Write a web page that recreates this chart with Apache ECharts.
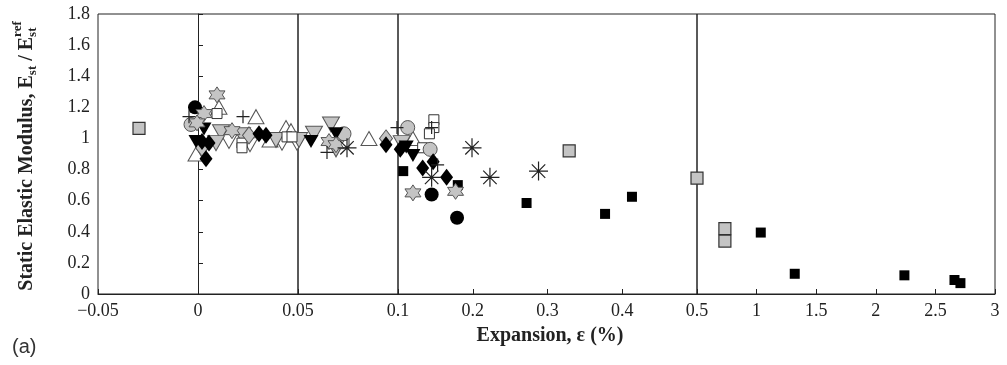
<!DOCTYPE html>
<html><head><meta charset="utf-8">
<script src="https://cdn.jsdelivr.net/npm/echarts@6/dist/echarts.min.js"></script>
<style>html,body{margin:0;padding:0;background:#fff}#c{width:1007px;height:365px}</style>
</head><body><div id="c"></div>
<script>
// Axis break points (x axis is piecewise linear), and tick settings
const xBreaks = [-0.05, 0.05, 0.1, 0.5, 3];
const xIntervals = [0.05, 0.05, 0.1, 0.5];
const yMin = 0, yMax = 1.8, yInterval = 0.2;

// Data: [expansion %, E/Eref]
const blackCircle = [[-0.0015,1.2],[0.145,0.64],[0.179,0.49]];
const grayCircle = [[-0.0035,1.09],[0.073,1.03],[0.113,1.07],[0.143,0.93]];
const whiteUpTri = [[0.0105,1.2],[-0.001,0.9],[0.029,1.14],[0.044,1.07],[0.0465,1.05],[0.0855,1.0],[0.12,1.0],[0.036,0.99]];
const grayDownTri = [[0.0115,1.04],[0.022,1.02],[0.009,0.97],[0.039,0.99],[0.0505,0.99],[0.058,1.03],[0.0665,1.09],[0.069,0.93],[0.105,0.97]];
const whiteDownTri = [[0.0155,0.98],[0.042,0.97],[0.026,0.96],[0.0495,0.97]];
const blackDownTri = [[0.003,1.06],[-0.001,0.98],[0.0565,0.98],[0.069,1.03],[0.111,0.945],[0.12,0.89]];
const blackDiamond = [[0.002,0.98],[0.0055,0.97],[0.004,0.87],[0.0305,1.03],[0.034,1.02],[0.094,0.96],[0.103,0.93],[0.133,0.81],[0.147,0.85],[0.165,0.75]];
const grayDiamond = [[0.002,0.94],[0.0255,1.02],[0.094,1.0]];
const whiteSquare = [[0.0095,1.16],[0.022,0.97],[0.022,0.94],[0.0445,1.01],[0.047,1.01],[0.073,0.97],[0.148,1.12],[0.148,1.07],[0.142,1.03],[0.133,0.94]];
const graySquare = [[-0.0295,1.065],[0.329,0.92],[0.5,0.745],[0.734,0.42],[0.734,0.34]];
const blackSquare = [[0.107,0.79],[0.18,0.7],[0.272,0.585],[0.377,0.515],[0.413,0.625],[1.035,0.395],[1.32,0.13],[2.24,0.12],[2.66,0.09],[2.71,0.07]];
const grayStar = [[0.0095,1.28],[0.003,1.16],[-0.0005,1.1],[0.017,1.05],[0.0655,0.98],[0.069,0.96],[0.12,0.65],[0.177,0.66]];
const plusMark = [[-0.0045,1.14],[0.0225,1.14],[0.0645,0.91],[0.0995,1.07],[0.145,1.07],[0.153,0.83]];
const asterisk = [[0.199,0.94],[0.223,0.75],[0.288,0.79],[0.145,0.75],[0.0745,0.94]];

// symbol paths
function starPath(){
  let s='';
  for(let k=0;k<12;k++){
    const a=(-90+k*30)*Math.PI/180, r=(k%2===0)?5:2.887;
    s+=(k===0?'M':'L')+(5+r*Math.cos(a)).toFixed(3)+','+(5+r*Math.sin(a)).toFixed(3);
  }
  return 'path://'+s+'Z';
}
const SYM = {
  downTri: 'path://M0,0L10,0L5,9Z',
  star: starPath(),
  plus: 'path://M0,5L10,5M5,0L5,10',
  ast: 'path://M0,5L10,5M5,0L5,10M1.46,1.46L8.54,8.54M1.46,8.54L8.54,1.46'
};
const GRAY='#c4c4c4', EDGE='#555';
const groups = [
  {d: whiteDownTri, sym: SYM.downTri, size:[16,14], fill:'#fff', stroke:'#555', bw:1},
  {d: whiteUpTri, sym:'triangle', size:[16,14], fill:'#fff', stroke:'#555', bw:1},
  {d: grayDownTri, sym: SYM.downTri, size:[17,15], fill:GRAY, stroke:EDGE, bw:1},
  {d: whiteSquare, sym:'rect', size:10, fill:'#fff', stroke:'#333', bw:1},
  {d: grayCircle, sym:'circle', size:14, fill:GRAY, stroke:EDGE, bw:1},
  {d: grayDiamond, sym:'diamond', size:[13,17], fill:GRAY, stroke:EDGE, bw:1},
  {d: blackDownTri, sym: SYM.downTri, size:[15,13], fill:'#000', stroke:'#000', bw:0},
  {d: blackDiamond, sym:'diamond', size:[13,17], fill:'#000', stroke:'#000', bw:0},
  {d: blackCircle, sym:'circle', size:14, fill:'#000', stroke:'#000', bw:0},
  {d: graySquare, sym:'rect', size:12, fill:GRAY, stroke:'#333', bw:1.2},
  {d: blackSquare, sym:'rect', size:10, fill:'#000', stroke:'#000', bw:0},
  {d: grayStar, sym: SYM.star, size:16, fill:GRAY, stroke:EDGE, bw:1},
  {d: plusMark, sym: SYM.plus, size:13, fill:'none', stroke:'#222', bw:1.2},
  {d: asterisk, sym: SYM.ast, size:19, fill:'none', stroke:'#222', bw:1.2}
];

const gLeft=[98,298,398,697], gWidth=[200,100,299,298], gTop=14, gHeight=280;
function gridOf(x){ for(let i=0;i<4;i++){ if(x<xBreaks[i+1] || i===3) return i; } }

const AX='#222', FONT='"Liberation Serif","Times New Roman",serif';
const grid=[], xAxis=[], yAxis=[], series=[];
for(let i=0;i<4;i++){
  grid.push({left:gLeft[i], top:gTop, width:gWidth[i], height:gHeight, show:true, borderColor:AX, borderWidth:1, containLabel:false});
  xAxis.push({type:'value', gridIndex:i, min:xBreaks[i], max:xBreaks[i+1], interval:xIntervals[i],
    axisLine:{show:true, lineStyle:{color:AX}}, axisTick:{show:true, inside:true, length:5, lineStyle:{color:AX}},
    splitLine:{show:false},
    axisLabel:{color:'#222', fontFamily:FONT, fontSize:18, margin:8, showMinLabel: i===0, showMaxLabel:true,
      formatter:v=>{const t=String(+v.toFixed(2)); return t.replace('-','\u2212');}}});
  yAxis.push({type:'value', gridIndex:i, min:yMin, max:yMax, interval:yInterval,
    axisLine:{show:i===0, lineStyle:{color:AX}}, axisTick:{show:i===0, inside:true, length:5, lineStyle:{color:AX}},
    splitLine:{show:false},
    axisLabel:{show:i===0, color:'#222', fontFamily:FONT, fontSize:18, margin:8, formatter:v=>String(+v.toFixed(1))}});
}
groups.forEach(g=>{
  for(let i=0;i<4;i++){
    const pts=g.d.filter(p=>gridOf(p[0])===i);
    if(!pts.length) continue;
    series.push({type:'scatter', xAxisIndex:i, yAxisIndex:i, data:pts, symbol:g.sym, symbolSize:g.size,
      clip:false, silent:true,
      itemStyle:{color:g.fill, borderColor:g.stroke, borderWidth:g.bw, opacity:1}});
  }
});

// Y axis title pieces, measured
const ctx=document.createElement('canvas').getContext('2d');
const TF='bold 20px "Liberation Serif"', SF='bold 13px "Liberation Serif"';
function mw(t,f){ctx.font=f;return ctx.measureText(t).width;}
const t1='Static Elastic Modulus, E', t3=' / E';
const w1=mw(t1,TF), w2=mw('st',SF), w3=mw(t3,TF), w5=mw('ref',SF);
const L=w1+w2+w3+Math.max(w2,w5);
const tStyle=(text,font,extra)=>Object.assign({text, font, fill:'#222', verticalAlign:'middle', align:'left'}, extra||{});

const chart=echarts.init(document.getElementById('c'),null,{renderer:'canvas'});
chart.setOption({
  animation:false, backgroundColor:'#fff',
  grid, xAxis, yAxis, series,
  graphic:[
    {type:'group', x:27, y:156+L/2, rotation:Math.PI/2, children:[
      {type:'text', x:0, y:0, style:tStyle(t1,TF)},
      {type:'text', x:w1, y:6, style:tStyle('st',SF)},
      {type:'text', x:w1+w2, y:0, style:tStyle(t3,TF)},
      {type:'text', x:w1+w2+w3, y:6, style:tStyle('st',SF)},
      {type:'text', x:w1+w2+w3, y:-9, style:tStyle('ref',SF)}
    ]},
    {type:'text', x:550, y:336, style:{text:'Expansion, \u03b5 (%)', font:TF, fill:'#222', align:'center', verticalAlign:'middle'}},
    {type:'text', x:12, y:347, style:{text:'(a)', font:'20px "Liberation Sans"', fill:'#333', align:'left', verticalAlign:'middle'}}
  ]
});
</script></body></html>
